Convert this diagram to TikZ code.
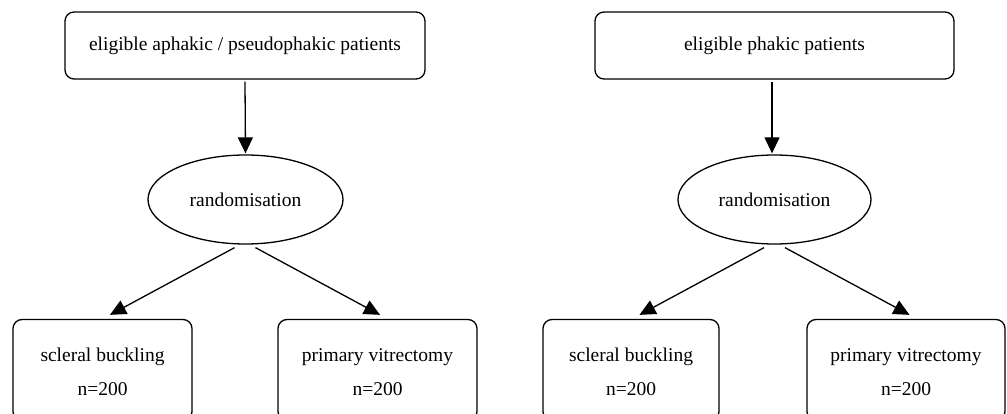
\documentclass[tikz,border=0pt]{standalone}
\usepackage{fontspec}
\setmainfont{Liberation Serif}
\usetikzlibrary{arrows.meta,shapes.geometric}
\begin{document}
\begin{tikzpicture}[x=1pt,y=-1pt,
  every node/.style={font=\fontsize{19.5}{23}\selectfont, inner sep=0pt},
  rbox/.style={draw, line width=1.3pt, rounded corners=9pt},
  oval/.style={draw, line width=1.3pt, ellipse},
  arr/.style={line width=1.3pt, -{Triangle[length=16pt,width=15pt]}},
  txt/.style={anchor=base}]
\clip (0,0) rectangle (1007,414);
\useasboundingbox (0,0) rectangle (1007,414);
% left tree
\node[rbox, minimum width=360, minimum height=67] (ta) at (245,45.5) {eligible aphakic / pseudophakic patients};
\node[oval, minimum width=195, minimum height=89] (ra) at (245.5,199.5) {randomisation};
\node[rbox, minimum width=179, minimum height=101] (sba) at (102.5,370) {};
\node[rbox, minimum width=199, minimum height=101] (pva) at (377.5,370) {};
\node[txt] (sba1) at (102.5,361.7) {scleral buckling};
\node[txt] (sba2) at (102.5,395) {n=200};
\node[txt] (pva1) at (377.5,361.7) {primary vitrectomy};
\node[txt] (pva2) at (377.5,395) {n=200};
\draw[arr] ([yshift=-2pt]ta.south) -- ([yshift=1pt]ra.north);
\draw[arr] ([xshift=-11pt,yshift=-3pt]ra.south) -- ([xshift=7.5pt,yshift=4pt]sba.north);
\draw[arr] ([xshift=10pt,yshift=-3pt]ra.south) -- ([xshift=2.5pt,yshift=4pt]pva.north);
% right tree
\node[rbox, minimum width=359, minimum height=67] (tb) at (774.5,45.5) {eligible phakic patients};
\node[oval, minimum width=193, minimum height=89] (rb) at (774.5,199.5) {randomisation};
\node[rbox, minimum width=176, minimum height=101] (sbb) at (631,370) {};
\node[rbox, minimum width=198, minimum height=101] (pvb) at (906,370) {};
\node[txt] (sbb1) at (631,361.7) {scleral buckling};
\node[txt] (sbb2) at (631,395) {n=200};
\node[txt] (pvb1) at (906,361.7) {primary vitrectomy};
\node[txt] (pvb2) at (906,395) {n=200};
\draw[arr] ([xshift=-2.5pt,yshift=-2pt]tb.south) -- ([xshift=-2.5pt,yshift=1pt]rb.north);
\draw[arr] ([xshift=-10.5pt,yshift=-3pt]rb.south) -- ([xshift=8.5pt,yshift=4pt]sbb.north);
\draw[arr] ([xshift=10.5pt,yshift=-3pt]rb.south) -- ([xshift=3.5pt,yshift=4pt]pvb.north);
\end{tikzpicture}
\end{document}
